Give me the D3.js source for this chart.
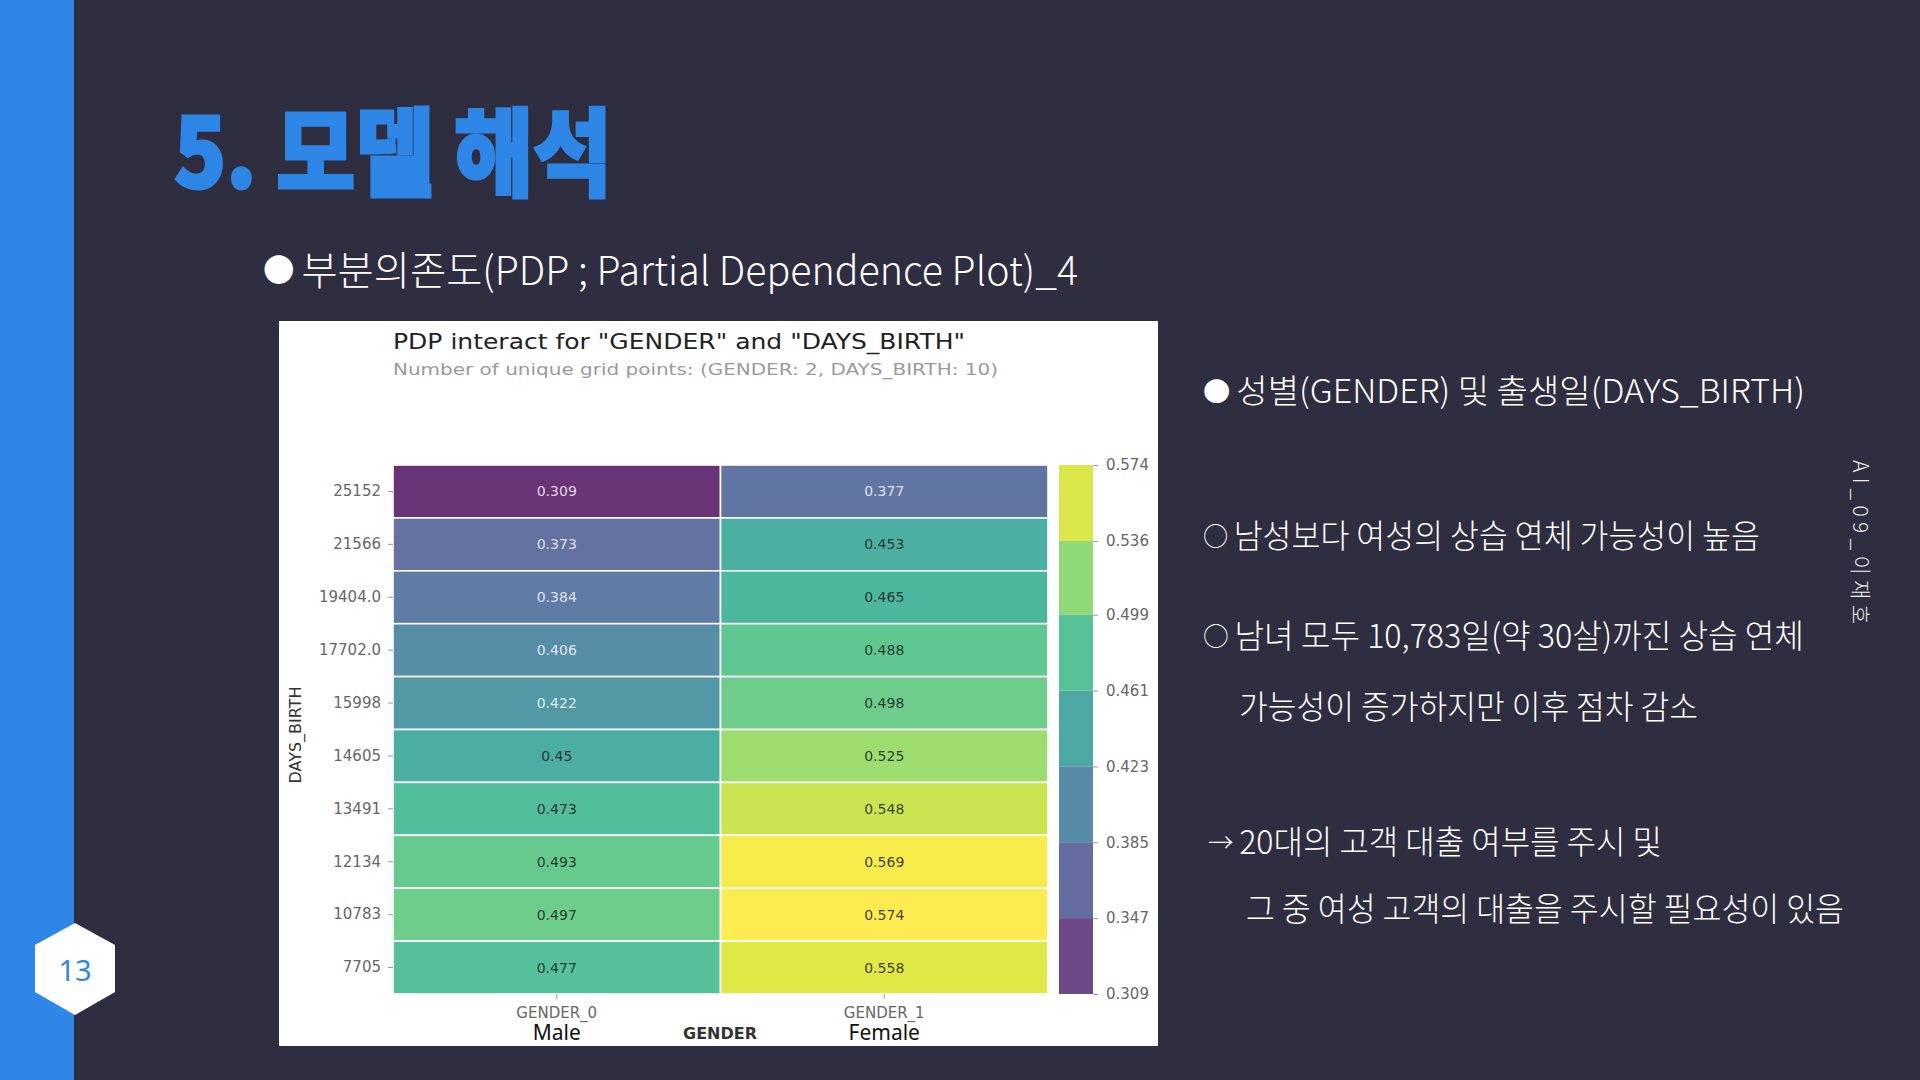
<!DOCTYPE html>
<html>
<head>
<meta charset="utf-8">
<script src="https://cdnjs.cloudflare.com/ajax/libs/d3/7.8.5/d3.min.js"></script>
<style>
  body { margin: 0; background: #2f2e40; }
  svg { display: block; }
</style>
</head>
<body>
<svg id="slide" width="1920" height="1080"></svg>
<script>
// chart values
var genderCats = ["GENDER_0", "GENDER_1"];
var genderNames = ["Male", "Female"];
var daysBirth = ["25152", "21566", "19404.0", "17702.0", "15998", "14605", "13491", "12134", "10783", "7705"];
var maleValues = [0.309, 0.373, 0.384, 0.406, 0.422, 0.45, 0.473, 0.493, 0.497, 0.477];
var femaleValues = [0.377, 0.453, 0.465, 0.488, 0.498, 0.525, 0.548, 0.569, 0.574, 0.558];
var cbarTicks = [0.309, 0.347, 0.385, 0.423, 0.461, 0.499, 0.536, 0.574];

var svg = d3.select("#slide");
var kr = "'Noto Sans CJK KR', 'Noto Sans', sans-serif";
var mpl = "'DejaVu Sans', sans-serif";

// slide frame
svg.append("rect").attr("width", 1920).attr("height", 1080).attr("fill", "#2f2e40");
svg.append("rect").attr("width", 74).attr("height", 1080).attr("fill", "#2e86e6");

// page number hexagon
var hex = [[75, 923], [115, 945], [115, 992], [75, 1015], [35, 992], [35, 945]];
svg.append("path")
  .attr("d", "M" + hex.join("L") + "Z")
  .attr("fill", "#ffffff");
svg.append("text")
  .attr("x", 75).attr("y", 969)
  .attr("text-anchor", "middle").attr("dominant-baseline", "central")
  .attr("font-family", "'Noto Sans', sans-serif").attr("font-size", 29)
  .attr("fill", "#2e86e6")
  .text("13");

// headings
svg.append("text")
  .attr("x", 174).attr("y", 146)
  .attr("dominant-baseline", "central")
  .attr("font-family", kr).attr("font-weight", 900).attr("font-size", 96)
  .attr("fill", "#2e86e6").attr("stroke", "#2e86e6").attr("stroke-width", 3)
  .attr("textLength", 438).attr("lengthAdjust", "spacingAndGlyphs")
  .text("5. 모델 해석");

function bulletText(sel, bullet, rest) {
  if (bullet) sel.append("tspan").attr("font-size", "0.8em").text(bullet + " ");
  sel.append("tspan").text(rest);
}

var sub = svg.append("text")
  .attr("x", 263).attr("y", 268)
  .attr("dominant-baseline", "central")
  .attr("font-family", kr).attr("font-weight", 300).attr("font-size", 40)
  .attr("fill", "#ffffff")
  .attr("textLength", 815).attr("lengthAdjust", "spacingAndGlyphs");
bulletText(sub, "●", "부분의존도(PDP ; Partial Dependence Plot)_4");

// right side notes
var notes = [
  {b: "●", t: "성별(GENDER) 및 출생일(DAYS_BIRTH)", x: 1203, y: 389, w: 602},
  {b: "○", t: "남성보다 여성의 상습 연체 가능성이 높음", x: 1203, y: 534, w: 557},
  {b: "○", t: "남녀 모두 10,783일(약 30살)까진 상습 연체", x: 1203, y: 634, w: 601},
  {b: "", t: "가능성이 증가하지만 이후 점차 감소", x: 1239, y: 705, w: 459},
  {b: "→", t: "20대의 고객 대출 여부를 주시 및", x: 1208, y: 840, w: 454},
  {b: "", t: "그 중 여성 고객의 대출을 주시할 필요성이 있음", x: 1246, y: 907, w: 598}
];
svg.selectAll("text.note").data(notes).enter().append("text")
  .attr("class", "note")
  .attr("x", d => d.x).attr("y", d => d.y)
  .attr("dominant-baseline", "central")
  .attr("font-family", kr).attr("font-weight", 300).attr("font-size", 33)
  .attr("fill", "#ffffff")
  .attr("textLength", d => d.w).attr("lengthAdjust", "spacingAndGlyphs")
  .each(function(d) { bulletText(d3.select(this), d.b, d.t); });

svg.append("text")
  .attr("transform", "translate(1862,460) rotate(90)")
  .attr("dominant-baseline", "central")
  .attr("font-family", kr).attr("font-weight", 300).attr("font-size", 21)
  .attr("fill", "#ececec")
  .attr("textLength", 164).attr("lengthAdjust", "spacing")
  .text("AI_09_이재호");

// chart panel (the pasted plot image)
svg.append("rect")
  .attr("x", 279).attr("y", 321).attr("width", 879).attr("height", 725)
  .attr("fill", "#ffffff");

svg.append("text")
  .attr("x", 393).attr("y", 349)
  .attr("font-family", mpl).attr("font-size", 22).attr("fill", "#222")
  .attr("textLength", 572).attr("lengthAdjust", "spacingAndGlyphs")
  .text('PDP interact for "GENDER" and "DAYS_BIRTH"');
svg.append("text")
  .attr("x", 393).attr("y", 375)
  .attr("font-family", mpl).attr("font-size", 16.5).attr("fill", "#9a9a9a")
  .attr("textLength", 605).attr("lengthAdjust", "spacingAndGlyphs")
  .text("Number of unique grid points: (GENDER: 2, DAYS_BIRTH: 10)");

// heatmap
var x = d3.scaleBand().domain(genderCats).range([393, 1048]);
var y = d3.scaleBand().domain(daysBirth).range([465, 994]);

var allVals = maleValues.concat(femaleValues);
var vMin = d3.min(allVals), vMax = d3.max(allVals);
var color = d3.scaleSequential(d3.interpolateViridis).domain([vMin, vMax]);
var mid = (vMin + vMax) / 2;

var cells = [];
daysBirth.forEach(function(day, i) {
  cells.push({g: genderCats[0], day: day, v: maleValues[i]});
  cells.push({g: genderCats[1], day: day, v: femaleValues[i]});
});

var heat = svg.append("g");
heat.selectAll("rect").data(cells).enter().append("rect")
  .attr("x", d => x(d.g)).attr("y", d => y(d.day))
  .attr("width", x.bandwidth()).attr("height", y.bandwidth())
  .attr("fill", d => color(d.v)).attr("fill-opacity", 0.8)
  .attr("stroke", "#ffffff").attr("stroke-width", 1.6);

heat.selectAll("text").data(cells).enter().append("text")
  .attr("x", d => x(d.g) + x.bandwidth() / 2)
  .attr("y", d => y(d.day) + y.bandwidth() / 2)
  .attr("text-anchor", "middle").attr("dominant-baseline", "central")
  .attr("font-family", mpl).attr("font-size", 14)
  .attr("fill", d => d.v < mid ? "#ffffff" : "#1a1a1a")
  .attr("fill-opacity", d => d.v < mid ? 0.8 : 0.85)
  .text(d => d.v);

// axes
function styleAxis(g) {
  g.select(".domain").remove();
  g.selectAll(".tick line").attr("stroke", "#999");
  g.selectAll(".tick text")
    .attr("font-family", mpl).attr("font-size", 15).attr("fill", "#666");
}

svg.append("g")
  .attr("transform", "translate(393,0)")
  .call(d3.axisLeft(y).tickSize(5).tickPadding(7))
  .call(styleAxis);

svg.append("g")
  .attr("transform", "translate(0,994)")
  .call(d3.axisBottom(x).tickSize(5).tickPadding(8))
  .call(styleAxis);

svg.selectAll("text.gname").data(genderCats).enter().append("text")
  .attr("class", "gname")
  .attr("x", d => x(d) + x.bandwidth() / 2).attr("y", 1040)
  .attr("text-anchor", "middle")
  .attr("font-family", "'Noto Sans', sans-serif").attr("font-size", 21).attr("fill", "#111")
  .text((d, i) => genderNames[i]);

svg.append("text")
  .attr("x", 720).attr("y", 1039)
  .attr("text-anchor", "middle")
  .attr("font-family", mpl).attr("font-size", 16).attr("font-weight", "bold").attr("fill", "#333")
  .text("GENDER");

svg.append("text")
  .attr("transform", "translate(295,735) rotate(-90)")
  .attr("text-anchor", "middle").attr("dominant-baseline", "central")
  .attr("font-family", mpl).attr("font-size", 16).attr("fill", "#333")
  .attr("textLength", 97).attr("lengthAdjust", "spacingAndGlyphs")
  .text("DAYS_BIRTH");

// discrete colour bar
var cbY = d3.scaleLinear().domain([vMin, vMax]).range([994, 465]);
var bins = d3.pairs(cbarTicks);
svg.append("g").selectAll("rect").data(bins).enter().append("rect")
  .attr("x", 1059).attr("width", 34)
  .attr("y", d => cbY(d[1])).attr("height", d => cbY(d[0]) - cbY(d[1]))
  .attr("fill", (d, i) => d3.interpolateViridis((i + 0.5) / bins.length))
  .attr("fill-opacity", 0.8);

svg.append("g")
  .attr("transform", "translate(1093,0)")
  .call(d3.axisRight(cbY).tickValues(cbarTicks).tickFormat(d3.format(".3f")).tickSize(5).tickPadding(8))
  .call(styleAxis);
</script>
</body>
</html>
